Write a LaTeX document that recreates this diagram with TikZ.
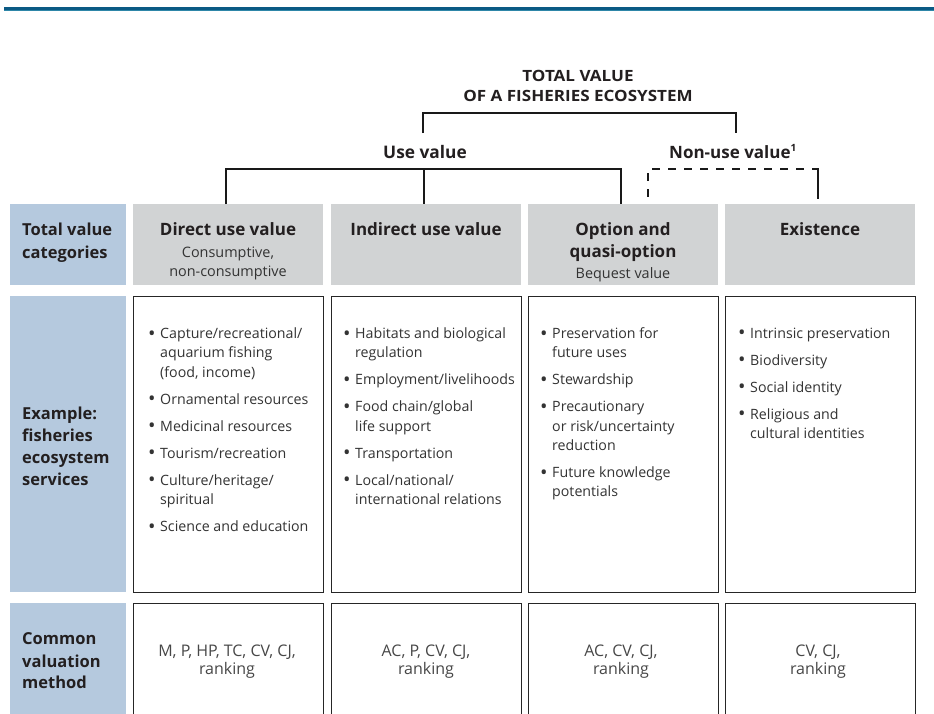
\documentclass[tikz,border=0pt]{standalone}
\usepackage{fontspec}
\setmainfont{Open Sans}
\definecolor{catblue}{HTML}{B5C9DE}
\definecolor{catgray}{HTML}{D1D3D4}
\definecolor{ruleblue}{HTML}{0B5A84}
\definecolor{rulelight}{HTML}{2E86A8}
\definecolor{bodytxt}{HTML}{333333}
\definecolor{titletxt}{HTML}{231F20}
\newcommand\mybul{\makebox[12pt][l]{\raisebox{-1.7pt}{\scalebox{1.4}{\textbullet}}}}
\newcommand\myind{\hspace*{12pt}}
\begin{document}
\begin{tikzpicture}[x=1pt,y=-1pt,
  labbox/.style={fill=catblue, draw=none, inner sep=0, anchor=north west, minimum width=116},
  hdrbox/.style={fill=catgray, draw=none, inner sep=0, anchor=north west, minimum width=190, minimum height=81},
  cellbox/.style={fill=white, draw=black!85, line width=1.2pt, inner sep=0, anchor=north west, minimum width=190},
  labtxt/.style={anchor=base west, inner sep=0, text=titletxt, font=\fontsize{16.5}{20}\selectfont\bfseries},
  hdrtxt/.style={anchor=base, inner sep=0, text=titletxt, font=\fontsize{17}{20}\selectfont\bfseries},
  subtxt/.style={anchor=base, inner sep=0, text=bodytxt, font=\fontsize{14.4}{18}\selectfont},
  methtxt/.style={anchor=base, inner sep=0, text=bodytxt!90, font=\fontsize{16}{18}\selectfont},
  listtxt/.style={anchor=north west, inner sep=0, align=left, text=bodytxt, font=\fontsize{14.2}{19.3}\selectfont},
  toptxt/.style={anchor=base, inner sep=0, text=titletxt, font=\fontsize{15.5}{18}\selectfont\bfseries},
  tree/.style={line width=2.5pt, draw=black!90},
  dashtree/.style={tree, dash pattern=on 8pt off 8pt, dash phase=12pt}]
\useasboundingbox (0,0) rectangle (934,713);
% top rule
\fill[ruleblue] (4,6.5) rectangle (934,9.6);
\fill[rulelight] (4,9.6) rectangle (934,10.6);

% ---------- row labels ----------
\node[labbox, minimum height=81] (L1) at (10,204) {};
\node[labbox, minimum height=296] (L2) at (10,296) {};
\node[labbox, minimum height=115] (L3) at (10,603) {};
\node[labtxt] (l1a) at (22,235) {Total value};
\node[labtxt] (l1b) at (22,258) {categories};
\node[labtxt] (l2a) at (22,419) {Example:};
\node[labtxt] (l2b) at (22,441) {fisheries};
\node[labtxt] (l2c) at (22,463) {ecosystem};
\node[labtxt] (l2d) at (22,485) {services};
\node[labtxt] (l3a) at (22,644) {Common};
\node[labtxt] (l3b) at (22,667) {valuation};
\node[labtxt] (l3c) at (22,688) {method};

% ---------- header row ----------
\node[hdrbox] (H1) at (133,204) {};
\node[hdrbox] (H2) at (331,204) {};
\node[hdrbox] (H3) at (528,204) {};
\node[hdrbox] (H4) at (725,204) {};
\node[hdrtxt] (h1) at (228,235) {Direct use value};
\node[subtxt] (h1a) at (228,257) {Consumptive,};
\node[subtxt] (h1b) at (228,276) {non-consumptive};
\node[hdrtxt] (h2) at (426,235) {Indirect use value};
\node[hdrtxt] (h3) at (623,235) {Option and};
\node[hdrtxt] (h3a) at (623,257) {quasi-option};
\node[subtxt] (h3b) at (623,278) {Bequest value};
\node[hdrtxt] (h4) at (820,235) {Existence};

% ---------- middle row ----------
\node[cellbox, minimum height=296] (M1) at (133,296) {};
\node[cellbox, minimum height=296] (M2) at (331,296) {};
\node[cellbox, minimum height=296] (M3) at (528,296) {};
\node[cellbox, minimum height=296] (M4) at (725,296) {};
\node[listtxt] (m1) at (148,327.5) {\mybul Capture/recreational/\\ \myind aquarium fishing\\ \myind (food, income)\\[7.7pt]
 \mybul Ornamental resources\\[7.7pt]
 \mybul Medicinal resources\\[7.7pt]
 \mybul Tourism/recreation\\[7.7pt]
 \mybul Culture/heritage/\\ \myind spiritual\\[7.7pt]
 \mybul Science and education};
\node[listtxt] (m2) at (343,327.5) {\mybul Habitats and biological\\ \myind regulation\\[7.7pt]
 \mybul Employment/livelihoods\\[7.7pt]
 \mybul Food chain/global\\ \myind life support\\[7.7pt]
 \mybul Transportation\\[7.7pt]
 \mybul Local/national/\\ \myind international relations};
\node[listtxt] (m3) at (540,327.5) {\mybul Preservation for\\ \myind future uses\\[7.7pt]
 \mybul Stewardship\\[7.7pt]
 \mybul Precautionary\\ \myind or risk/uncertainty\\ \myind reduction\\[7.7pt]
 \mybul Future knowledge\\ \myind potentials};
\node[listtxt] (m4) at (738,327.5) {\mybul Intrinsic preservation\\[7.7pt]
 \mybul Biodiversity\\[7.7pt]
 \mybul Social identity\\[7.7pt]
 \mybul Religious and\\ \myind cultural identities};

% ---------- bottom row ----------
\node[cellbox, minimum height=115] (B1) at (133,603) {};
\node[cellbox, minimum height=115] (B2) at (331,603) {};
\node[cellbox, minimum height=115] (B3) at (528,603) {};
\node[cellbox, minimum height=115] (B4) at (725,603) {};
\node[methtxt] (b1a) at (227,656) {M, P, HP, TC, CV, CJ,};
\node[methtxt] (b1b) at (227,674) {ranking};
\node[methtxt] (b2a) at (426,656) {AC, P, CV, CJ,};
\node[methtxt] (b2b) at (426,674) {ranking};
\node[methtxt] (b3a) at (621,656) {AC, CV, CJ,};
\node[methtxt] (b3b) at (621,674) {ranking};
\node[methtxt] (b4a) at (818,656) {CV, CJ,};
\node[methtxt] (b4b) at (818,674) {ranking};

% ---------- value tree ----------
\node[toptxt] (t1) at (578,81.5) {\scalebox{1.1}[1]{TOTAL VALUE}};
\node[toptxt] (t2) at (578,101.5) {\scalebox{1.1}[1]{OF A FISHERIES ECOSYSTEM}};
\node[hdrtxt, font=\fontsize{17.3}{20}\selectfont\bfseries] (use) at (425,158) {Use value};
\node[hdrtxt] (nonuse) at (733,158) {Non-use value\textsuperscript{\fontsize{10}{10}\selectfont 1}};

\coordinate (ta) at (423,113);
\coordinate (tb) at (736,113);
\draw[tree] (423,133) -- (ta) -- (tb) -- (736,133);

\coordinate (ua) at (226,169);
\coordinate (ub) at (424,169);
\coordinate (uc) at (621,169);
\draw[tree] (ua |- H1.north) -- (ua) -- (uc) -- (uc |- H3.north);
\draw[tree] (ub) -- (ub |- H2.north);

\coordinate (na) at (648,169);
\coordinate (nb) at (818,169);
\draw[dashtree] (na) -- (812,169);
\draw[dashtree] (na) -- (648,199);
\draw[tree] (812,169) -- (nb) -- (818,199);
\end{tikzpicture}
\end{document}
